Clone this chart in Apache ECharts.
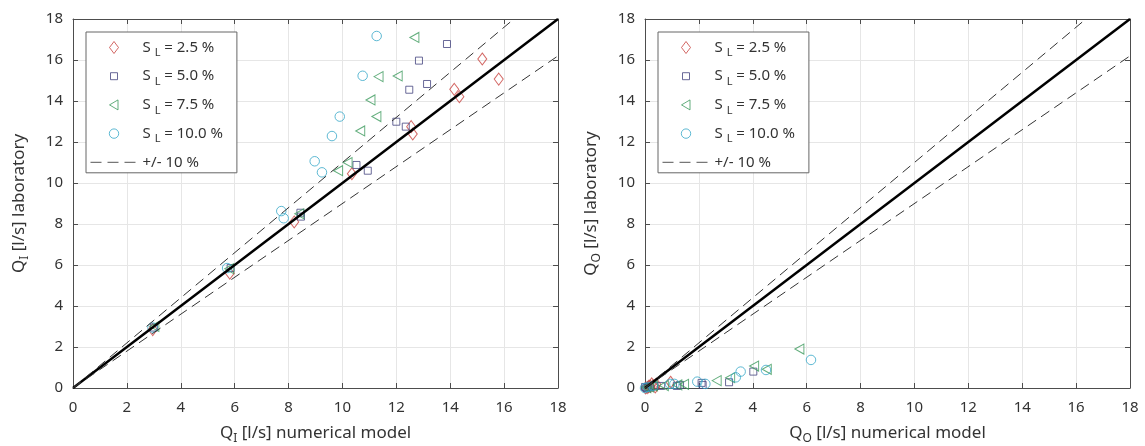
<!DOCTYPE html>
<html><head><meta charset="utf-8">
<script src="https://cdn.jsdelivr.net/npm/echarts@6/dist/echarts.min.js"></script>
<style>html,body{margin:0;padding:0;background:#fff}#c{width:1145px;height:446px}</style>
</head><body><div id="c"></div>
<script>
// ---- data ----
const axisTicks = [0, 2, 4, 6, 8, 10, 12, 14, 16, 18];
const seriesNames = ['S_L = 2.5 %', 'S_L = 5.0 %', 'S_L = 7.5 %', 'S_L = 10.0 %'];
const bandName = '+/- 10 %';
const bandRatio = 0.1;

// Left: Q_I laboratory vs numerical model  [numerical, laboratory]
const qiSL25 = [[2.96,2.85],[5.82,5.6],[8.21,8.1],[10.35,10.45],[12.55,12.75],[12.61,12.39],[14.15,14.57],[14.34,14.21],[15.19,16.05],[15.8,15.07]];
const qiSL50 = [[3.0,2.95],[5.85,5.85],[8.44,8.55],[8.46,8.36],[10.52,10.88],[10.94,10.6],[12.0,12.99],[12.35,12.75],[12.48,14.55],[13.14,14.83],[12.84,15.97],[13.88,16.78]];
const qiSL75 = [[3.02,3.0],[5.8,5.82],[8.4,8.5],[9.84,10.6],[10.19,11.0],[10.66,12.54],[11.26,13.24],[11.04,14.05],[11.34,15.19],[12.05,15.22],[12.67,17.1]];
const qiSL100 = [[2.95,2.95],[5.72,5.85],[7.73,8.63],[7.82,8.28],[8.97,11.06],[9.24,10.52],[9.61,12.29],[9.9,13.24],[10.75,15.23],[11.27,17.17]];

// Right: Q_O laboratory vs numerical model
const qoSL25 = [[0.02,0.0],[0.08,0.02],[0.12,0.05],[0.2,0.08],[0.3,0.12],[0.42,0.18],[0.38,0.05],[0.15,0.1],[0.95,0.28],[0.25,0.2]];
const qoSL50 = [[0.05,0.0],[0.1,0.02],[0.2,0.05],[0.35,0.1],[0.6,0.1],[1.18,0.1],[1.3,0.15],[2.14,0.15],[2.1,0.25],[3.12,0.28],[4.02,0.8],[0.0,0.05]];
const qoSL75 = [[0.05,0.02],[0.15,0.05],[0.3,0.1],[0.7,0.12],[1.2,0.15],[1.45,0.18],[2.66,0.36],[3.16,0.5],[4.05,1.07],[4.52,0.91],[5.73,1.9]];
const qoSL100 = [[0.0,0.0],[0.1,0.05],[0.3,0.1],[0.93,0.2],[1.09,0.2],[1.94,0.31],[2.24,0.2],[3.37,0.52],[3.55,0.8],[4.49,0.88],[6.16,1.37]];

// ---- styling ----
const FONT = 'Noto Sans';
const TXT = '#333';
const AX = '#4d4d4d';
const colors = ['#c8423f', '#45457f', '#3c9a5c', '#36a8c8'];
const symbols = [
  {symbol: 'path://M4.5,0L9,6L4.5,12L0,6Z', size: [9, 12]},
  {symbol: 'rect', size: 7},
  {symbol: 'path://M0,5L9,0L9,10Z', size: [9, 10]},
  {symbol: 'circle', size: 9.5}
];
const legendIcons = [
  'path://M4.5,0L9,6L4.5,12L0,6Z',
  'path://M0,0M12,12M2.5,2.5L9.5,2.5L9.5,9.5L2.5,9.5Z',
  'path://M0,0M12,12M1.5,6L10,1L10,11Z',
  'path://M0,0M12,12M10.7,6A4.7,4.7,0,1,1,1.3,6A4.7,4.7,0,1,1,10.7,6Z'
];
const grids = [
  {left: 73, top: 19, width: 485, height: 369, outerBoundsMode: 'none', containLabel: false},
  {left: 645, top: 19, width: 485, height: 369, outerBoundsMode: 'none', containLabel: false}
];
const panels = [
  {sub: 'I', data: [qiSL25, qiSL50, qiSL75, qiSL100], legendLeft: 86},
  {sub: 'O', data: [qoSL25, qoSL50, qoSL75, qoSL100], legendLeft: 658}
];

const aMin = axisTicks[0], aMax = axisTicks[axisTicks.length - 1], aInt = axisTicks[1] - axisTicks[0];
const dash = [10, 6];

const nameRich = {
  m: {fontFamily: FONT, fontSize: 17, lineHeight: 24, color: TXT},
  s: {fontFamily: FONT, fontSize: 12, lineHeight: 8, color: TXT, verticalAlign: 'bottom'}
};

const xAxis = [], yAxis = [], series = [], legend = [];
panels.forEach((p, gi) => {
  const base = {type: 'value', min: aMin, max: aMax, interval: aInt, gridIndex: gi};
  const line = {show: true, onZero: false, lineStyle: {color: AX, width: 1}};
  const tick = {show: true, inside: true, length: 5, lineStyle: {color: AX}};
  xAxis.push(Object.assign({}, base, {
    position: 'bottom', axisLine: line, axisTick: tick,
    axisLabel: {fontFamily: FONT, fontSize: 15, color: TXT, margin: 12},
    splitLine: {show: true, lineStyle: {color: '#e6e6e6'}},
    name: '{m|Q}{s|' + p.sub + '}{m| [l/s] numerical model}', nameLocation: 'middle', nameGap: 33,
    nameTextStyle: {rich: nameRich}
  }));
  xAxis.push(Object.assign({}, base, {
    position: 'top', axisLine: line, axisTick: tick, axisLabel: {show: false}, splitLine: {show: false}
  }));
  yAxis.push(Object.assign({}, base, {
    position: 'left', axisLine: line, axisTick: tick,
    axisLabel: {fontFamily: FONT, fontSize: 15, color: TXT, margin: 10},
    splitLine: {show: true, lineStyle: {color: '#e6e6e6'}},
    name: '{m|Q}{s|' + p.sub + '}{m| [l/s] laboratory}', nameLocation: 'middle', nameGap: 42, nameRotate: 90,
    nameTextStyle: {rich: nameRich}
  }));
  yAxis.push(Object.assign({}, base, {
    position: 'right', axisLine: line, axisTick: tick, axisLabel: {show: false}, splitLine: {show: false}
  }));

  p.data.forEach((d, si) => {
    series.push({
      type: 'scatter', name: seriesNames[si], data: d,
      xAxisIndex: gi * 2, yAxisIndex: gi * 2,
      symbol: symbols[si].symbol, symbolSize: symbols[si].size,
      itemStyle: {color: 'rgba(0,0,0,0)', borderColor: colors[si], borderWidth: 1},
      silent: true, z: 2
    });
  });
  series.push({
    type: 'line', name: 'identity', data: [[aMin, aMin], [aMax, aMax]],
    xAxisIndex: gi * 2, yAxisIndex: gi * 2, symbol: 'none',
    lineStyle: {color: '#000', width: 2.5}, silent: true, z: 3
  });
  [[[aMin, aMin], [aMax / (1 + bandRatio), aMax]], [[aMin, aMin], [aMax, aMax * (1 - bandRatio)]]].forEach(d => {
    series.push({
      type: 'line', name: bandName, data: d,
      xAxisIndex: gi * 2, yAxisIndex: gi * 2, symbol: 'none',
      itemStyle: {color: 'rgba(0,0,0,0)', borderWidth: 0},
      lineStyle: {color: '#333', width: 1, type: dash}, silent: true, z: 3
    });
  });

  legend.push({
    left: p.legendLeft, top: 32, orient: 'vertical',
    itemWidth: 47, itemHeight: 12, itemGap: 10.2,
    padding: [8, 14, 3, 4],
    borderColor: '#666', borderWidth: 1, backgroundColor: '#fff',
    selectedMode: false, symbolRotate: 0,
    itemStyle: {borderWidth: 1},
    textStyle: {
      fontFamily: FONT, fontSize: 15, color: TXT,
      rich: {
        m: {fontFamily: FONT, fontSize: 15, lineHeight: 22, color: TXT},
        s: {fontFamily: FONT, fontSize: 11, lineHeight: 8, color: TXT, verticalAlign: 'bottom'}
      }
    },
    formatter: function (name) {
      if (name.indexOf('S_L') === 0) return '{m|S }{s|L}{m|' + name.slice(3) + '}';
      return '{m|' + name + '}';
    },
    data: seriesNames.map((n, i) => ({name: n, icon: legendIcons[i]})).concat([{
      name: bandName,
      itemStyle: {color: 'rgba(0,0,0,0)', borderColor: 'rgba(0,0,0,0)', borderWidth: 0},
      lineStyle: {color: '#555', width: 1, type: [11, 6]}
    }]),
    z: 10
  });
});

const chart = echarts.init(document.getElementById('c'), null, {renderer: 'canvas'});
chart.setOption({
  animation: false,
  backgroundColor: '#fff',
  grid: grids,
  xAxis: xAxis,
  yAxis: yAxis,
  legend: legend,
  series: series
});
</script>
</body></html>
